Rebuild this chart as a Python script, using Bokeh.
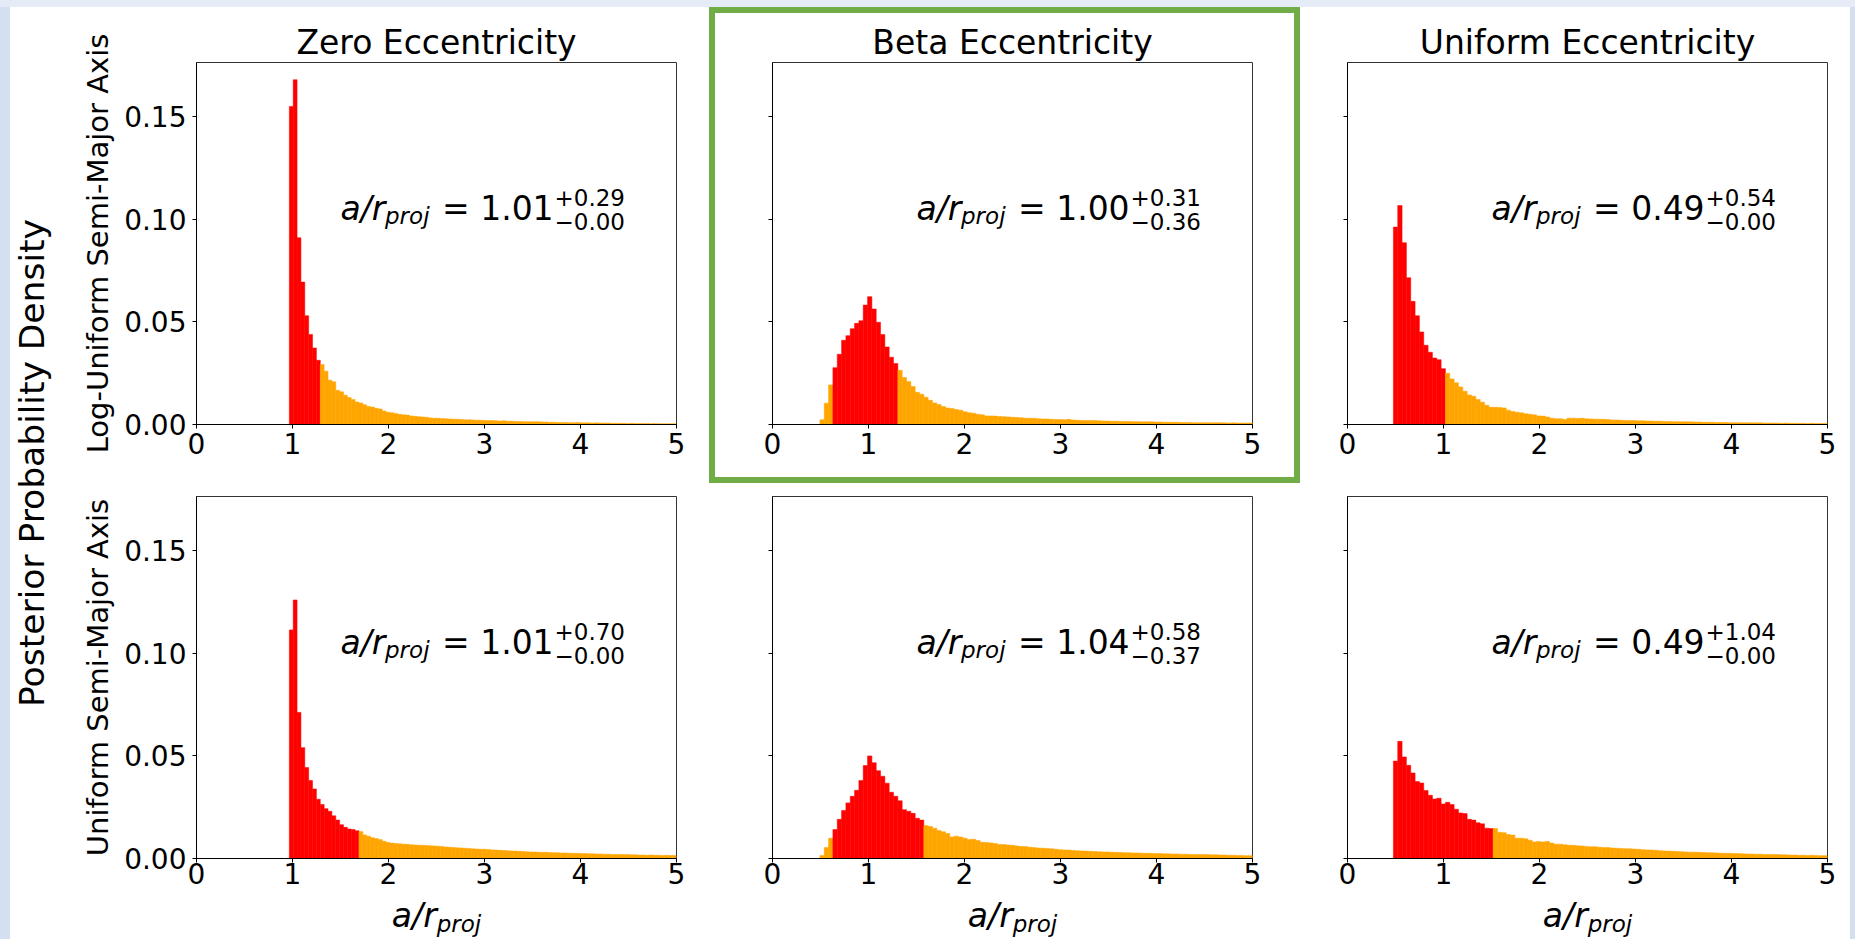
import numpy as np
from bokeh.plotting import figure
from bokeh.layouts import row, column
from bokeh.models import (Range1d, FixedTicker, Spacer, ColumnDataSource,
                          NumeralTickFormatter, CustomJSTickFormatter)
from bokeh.core.properties import value
from bokeh.embed import file_html
from bokeh.resources import INLINE

# ---------------- data ----------------
COL_TITLES = ["Zero Eccentricity", "Beta Eccentricity", "Uniform Eccentricity"]
ROW_LABELS = ["Log-Uniform Semi-Major Axis", "Uniform Semi-Major Axis"]
Y_LABEL = "Posterior Probability Density"
X_TICKS = [0, 1, 2, 3, 4, 5]
Y_TICKS = [0.0, 0.05, 0.10, 0.15]
X_MAX = 5.0
Y_MAX = 0.1764

BIN_START = [0.967, 0.494, 0.478, 0.967, 0.494, 0.478]
BIN_WIDTH = [0.0403, 0.0451, 0.0452, 0.0403, 0.0451, 0.0452]
RED_FIRST = [0, 3, 0, 0, 3, 0]
RED_LAST = [7, 17, 11, 17, 23, 22]
MEDIAN = ["1.01", "1.00", "0.49", "1.01", "1.04", "0.49"]
ERR_PLUS = ["0.29", "0.31", "0.54", "0.70", "0.58", "1.04"]
ERR_MINUS = ["0.00", "0.36", "0.00", "0.00", "0.37", "0.00"]

dens_log_zero = [
    0.155, 0.168, 0.091, 0.0694, 0.053, 0.0439, 0.0373, 0.0313,
    0.0292, 0.0260, 0.0216, 0.0208, 0.0167, 0.0159, 0.0143, 0.0131, 0.0122, 0.0110,
    0.0105, 0.0096, 0.0088, 0.0085, 0.0079, 0.0076, 0.0066, 0.0060, 0.0057, 0.0054, 0.0050, 0.0047,
    0.0046, 0.0042, 0.0040, 0.0038, 0.0037, 0.0035, 0.0032, 0.0031, 0.0030, 0.0029,
    0.0028, 0.0027, 0.0026, 0.0026, 0.0024, 0.0023, 0.0023, 0.0022, 0.0021, 0.0021,
    0.0020, 0.0019, 0.0019, 0.0018, 0.0017, 0.0018, 0.0016, 0.0016, 0.0015, 0.0015,
    0.0014, 0.0014, 0.0013, 0.0014, 0.0013, 0.0012, 0.0012, 0.0011, 0.0011, 0.0010,
    0.0010, 0.0010, 0.0009, 0.0009, 0.0010, 0.0008, 0.0008, 0.0008, 0.0007, 0.0008,
    0.0007, 0.0007, 0.0007, 0.0006, 0.0006, 0.0006, 0.0006, 0.0005, 0.0006, 0.0005,
    0.0005, 0.0005, 0.0005, 0.0004, 0.0005, 0.0004, 0.0004, 0.0004, 0.0004, 0.0004,
]
dens_log_beta = [
    0.0023, 0.0104, 0.0193, 0.0277, 0.0342, 0.0410, 0.0433, 0.0467, 0.0493, 0.0506,
    0.0582, 0.0623, 0.0563, 0.0498, 0.0438, 0.0378, 0.0328, 0.0297,
    0.0264, 0.0229, 0.0209, 0.0185, 0.0157, 0.0148, 0.0133, 0.0118, 0.0105, 0.0097,
    0.0088, 0.0081, 0.0078, 0.0073, 0.0070, 0.0062, 0.0057, 0.0055, 0.0050, 0.0047,
    0.0042, 0.0042, 0.0041, 0.0039,
    0.0038, 0.0037, 0.0035, 0.0034, 0.0033, 0.0031, 0.0030, 0.0030,
    0.0028, 0.0027, 0.0027, 0.0025, 0.0024, 0.0024, 0.0023, 0.0025, 0.0022, 0.0021,
    0.0020, 0.0020, 0.0019, 0.0019, 0.0018, 0.0017, 0.0017, 0.0016, 0.0016, 0.0015,
    0.0015, 0.0015, 0.0014, 0.0014, 0.0013, 0.0013, 0.0013, 0.0012, 0.0012, 0.0011,
    0.0011, 0.0011, 0.0011, 0.0010, 0.0010, 0.0010, 0.0009, 0.0009, 0.0009, 0.0009,
    0.0008, 0.0009, 0.0008, 0.0008, 0.0007, 0.0008, 0.0007, 0.0007, 0.0007, 0.0007,
]
dens_log_unif = [
    0.0962, 0.1067, 0.0886, 0.0715, 0.0600, 0.0530, 0.0451, 0.0386, 0.0352, 0.0324, 0.0316, 0.0272,
    0.0250, 0.0222, 0.0203, 0.0183, 0.0162, 0.0144, 0.0138, 0.0122, 0.0109, 0.0094,
    0.0084, 0.0084, 0.0083, 0.0081, 0.0070, 0.0063, 0.0060, 0.0057, 0.0052, 0.0050,
    0.0047, 0.0042, 0.0041, 0.0037, 0.0031, 0.0028, 0.0028, 0.0024, 0.0031,
    0.0031, 0.0029, 0.0030, 0.0028, 0.0027, 0.0026, 0.0026, 0.0025, 0.0024,
    0.0022, 0.0022, 0.0021, 0.0020, 0.0020, 0.0019, 0.0018, 0.0018, 0.0017, 0.0017,
    0.0016, 0.0016, 0.0015, 0.0015, 0.0014, 0.0014, 0.0013, 0.0013, 0.0013, 0.0012,
    0.0012, 0.0011, 0.0011, 0.0011, 0.0010, 0.0010, 0.0010, 0.0009, 0.0009, 0.0009,
    0.0009, 0.0008, 0.0008, 0.0008, 0.0008, 0.0007, 0.0007, 0.0007, 0.0007, 0.0006,
    0.0007, 0.0006, 0.0006, 0.0006, 0.0006, 0.0005, 0.0006, 0.0005, 0.0005, 0.0005,
]
dens_uni_zero = [
    0.1114, 0.1260, 0.0712, 0.0540, 0.0443, 0.0380, 0.0339, 0.0289, 0.0263, 0.0243,
    0.0230, 0.0208, 0.0187, 0.0165, 0.0152, 0.0144, 0.0141, 0.0135,
    0.0131, 0.0115, 0.0109, 0.0101, 0.0097, 0.0092, 0.0084, 0.0078, 0.0075, 0.0073,
    0.0072, 0.0070, 0.0069, 0.0067, 0.0066, 0.0065, 0.0064, 0.0063, 0.0062, 0.0061, 0.0060, 0.0058,
    0.0056, 0.0055, 0.0053, 0.0052, 0.0051, 0.0050, 0.0049, 0.0047, 0.0046, 0.0045,
    0.0045, 0.0044, 0.0042, 0.0041, 0.0040, 0.0039, 0.0038, 0.0037, 0.0036, 0.0035,
    0.0034, 0.0033, 0.0032, 0.0032, 0.0031, 0.0030, 0.0030, 0.0029, 0.0028, 0.0028,
    0.0027, 0.0027, 0.0026, 0.0025, 0.0025, 0.0024, 0.0024, 0.0023, 0.0023, 0.0022,
    0.0022, 0.0021, 0.0021, 0.0020, 0.0020, 0.0019, 0.0020, 0.0019, 0.0018, 0.0018,
    0.0017, 0.0017, 0.0016, 0.0017, 0.0016, 0.0016, 0.0015, 0.0016, 0.0015, 0.0015,
]
dens_uni_beta = [
    0.0015, 0.0054, 0.0099, 0.0141, 0.0191, 0.0234, 0.0271, 0.0303, 0.0332, 0.0380,
    0.0453, 0.0500, 0.0467, 0.0428, 0.0401, 0.0367, 0.0323, 0.0303, 0.0281, 0.0238,
    0.0230, 0.0220, 0.0196, 0.0187,
    0.0161, 0.0156, 0.0148, 0.0136, 0.0130, 0.0122, 0.0105, 0.0109, 0.0105, 0.0099,
    0.0092, 0.0094, 0.0088, 0.0079, 0.0078, 0.0076, 0.0073, 0.0068,
    0.0068, 0.0066, 0.0064, 0.0061, 0.0058, 0.0058, 0.0055, 0.0053,
    0.0051, 0.0050, 0.0049, 0.0047, 0.0045, 0.0043, 0.0042, 0.0041, 0.0039, 0.0038,
    0.0037, 0.0036, 0.0035, 0.0034, 0.0033, 0.0032, 0.0032, 0.0031, 0.0030, 0.0029,
    0.0028, 0.0028, 0.0027, 0.0027, 0.0026, 0.0025, 0.0025, 0.0024, 0.0024, 0.0023,
    0.0023, 0.0022, 0.0022, 0.0021, 0.0021, 0.0020, 0.0020, 0.0019, 0.0019, 0.0019,
    0.0018, 0.0018, 0.0017, 0.0017, 0.0016, 0.0016, 0.0015, 0.0015, 0.0014, 0.0014,
]
dens_uni_unif = [
    0.0475, 0.0571, 0.0495, 0.0454, 0.0417, 0.0375, 0.0368, 0.0331, 0.0308, 0.0290,
    0.0294, 0.0266, 0.0274, 0.0263, 0.0240, 0.0222, 0.0219, 0.0191, 0.0187, 0.0174,
    0.0169, 0.0148, 0.0146,
    0.0146, 0.0128, 0.0126, 0.0117, 0.0114, 0.0099, 0.0099, 0.0096, 0.0089, 0.0081,
    0.0083, 0.0081, 0.0083, 0.0075, 0.0070, 0.0070, 0.0067, 0.0065,
    0.0064, 0.0062, 0.0061, 0.0059, 0.0057, 0.0057, 0.0055, 0.0053, 0.0054,
    0.0051, 0.0050, 0.0049, 0.0048, 0.0047, 0.0046, 0.0045, 0.0043, 0.0042, 0.0041,
    0.0040, 0.0038, 0.0037, 0.0036, 0.0035, 0.0034, 0.0033, 0.0032, 0.0031, 0.0031,
    0.0030, 0.0029, 0.0028, 0.0028, 0.0027, 0.0026, 0.0025, 0.0025, 0.0024, 0.0024,
    0.0023, 0.0022, 0.0022, 0.0021, 0.0021, 0.0020, 0.0020, 0.0019, 0.0019, 0.0018,
    0.0018, 0.0017, 0.0017, 0.0016, 0.0016, 0.0015, 0.0016, 0.0015, 0.0014, 0.0014,
]
DENSITIES = [dens_log_zero, dens_log_beta, dens_log_unif,
             dens_uni_zero, dens_uni_beta, dens_uni_unif]

# ---------------- layout / style ----------------
FONT = "DejaVu Sans"
RED = "#FF0000"
ORANGE = "#FFA500"
GREEN = "#70AD47"
BLUE_EDGE = "#D5DFF2"
BLUE_TOP = "#E6ECF7"
GB = 6                      # width of the green highlight box
COL_W = [644, 591, 550]
COL_ML = [131, 63, 47]
XLAB_H = 44
ROW_H = [476, 456 - XLAB_H]
ROW_MT = [55, 13]
ROW_MB = [59, 456 - XLAB_H - 13 - 362]
XSTANDOFF = [4, 0]
FRAME_W = 480
FRAME_H = 362
PX = X_MAX / FRAME_W
PY = Y_MAX / FRAME_H
MID = 0.32                  # distance baseline -> text middle, in em
BIG, SMALL = 33, 23         # main / sub-superscript font sizes (px)

figs = []
for i, dens in enumerate(DENSITIES):
    r, c = divmod(i, 3)
    inset = GB if i == 1 else 0
    kw = dict(width=COL_W[c] - 2 * inset, height=ROW_H[r] - 2 * inset,
              x_range=Range1d(0, X_MAX), y_range=Range1d(0, Y_MAX),
              output_backend="svg", toolbar_location=None,
              min_border_left=COL_ML[c] - inset,
              min_border_right=COL_W[c] - COL_ML[c] - FRAME_W - inset,
              min_border_top=ROW_MT[r] - inset, min_border_bottom=ROW_MB[r] - inset)
    if r == 0:
        p = figure(title=COL_TITLES[c], **kw)
        p.title.align = "center"
        p.title.text_font = FONT
        p.title.text_font_size = "33px"
        p.title.text_font_style = "normal"
        p.title.text_color = "black"
        p.title.standoff = 2
    else:
        p = figure(title=None, **kw)

    n = len(dens)
    edges = BIN_START[i] + BIN_WIDTH[i] * np.arange(n + 1)
    colors = [RED if RED_FIRST[i] <= k <= RED_LAST[i] else ORANGE for k in range(n)]
    src = ColumnDataSource(dict(left=edges[:-1], right=edges[1:], top=dens, color=colors))
    p.quad(left="left", right="right", bottom=0, top="top", fill_color="color",
           line_color="color", line_width=0.5, source=src)

    p.grid.grid_line_color = None
    p.outline_line_color = "#333333"
    p.outline_line_width = 1
    p.xaxis.ticker = FixedTicker(ticks=X_TICKS)
    p.yaxis.ticker = FixedTicker(ticks=Y_TICKS)
    p.axis.minor_tick_line_color = None
    p.axis.major_tick_in = 0
    p.axis.major_tick_out = 4
    p.axis.axis_line_color = "black"
    p.axis.major_tick_line_color = "black"
    p.axis.major_label_text_font = FONT
    p.axis.major_label_text_font_size = "28px"
    p.axis.major_label_text_color = "black"
    p.xaxis.major_label_standoff = XSTANDOFF[r]
    p.yaxis.major_label_standoff = 6
    if c == 0:
        p.yaxis.formatter = NumeralTickFormatter(format="0.00")
        p.yaxis.axis_label = ROW_LABELS[r]
        p.yaxis.axis_label_text_font = FONT
        p.yaxis.axis_label_text_font_size = "29px"
        p.yaxis.axis_label_text_font_style = "normal"
        p.yaxis.axis_label_text_color = "black"
        p.yaxis.axis_label_standoff = 6
    else:
        p.yaxis.formatter = CustomJSTickFormatter(code="return ''")

    # annotation  a/r_proj = med^{+x}_{-y}   (baselines given in px, drawn by middle)
    ax, ay = 1.5, 0.1
    common = dict(text_font=value(FONT), text_baseline="middle", text_align="left",
                  text_color="black")
    big_mid = MID * BIG * PY
    small_mid = MID * SMALL * PY
    p.text(x=[ax], y=[ay + big_mid], text=["a/r"], text_font_size=f"{BIG}px",
           text_font_style="italic", **common)
    p.text(x=[ax + 44.5 * PX], y=[ay - 4 * PY + small_mid], text=["proj"],
           text_font_size=f"{SMALL}px", text_font_style="italic", **common)
    p.text(x=[ax + 101.5 * PX], y=[ay + big_mid], text=["= " + MEDIAN[i]],
           text_font_size=f"{BIG}px", **common)
    p.text(x=[ax + 214 * PX], y=[ay + 14.3 * PY + small_mid], text=["+" + ERR_PLUS[i]],
           text_font_size=f"{SMALL}px", **common)
    p.text(x=[ax + 214 * PX], y=[ay - 9.4 * PY + small_mid], text=["\u2212" + ERR_MINUS[i]],
           text_font_size=f"{SMALL}px", **common)
    figs.append(p)

# x-axis labels (a/r_proj) under the bottom row, in strips aligned with the frames
xlabs = []
W_AR = 1.3608 * BIG
W_PROJ = 1.9355 * SMALL
for c in range(3):
    q = figure(width=COL_W[c], height=XLAB_H, x_range=Range1d(0, X_MAX),
               y_range=Range1d(0, XLAB_H), output_backend="svg", toolbar_location=None,
               min_border_left=COL_ML[c], min_border_right=COL_W[c] - COL_ML[c] - FRAME_W,
               min_border_top=0, min_border_bottom=0,
               x_axis_location=None, y_axis_location=None, title=None)
    q.outline_line_color = None
    q.grid.grid_line_color = None
    x0 = X_MAX / 2 - (W_AR + W_PROJ) / 2 * PX
    base = 13                        # baseline of "a/r", px above the page bottom
    q.text(x=[x0], y=[base + MID * BIG], text=["a/r"], text_font=value(FONT),
           text_font_style="italic", text_font_size=f"{BIG}px", text_baseline="middle",
           text_align="left", text_color="black")
    q.text(x=[x0 + W_AR * PX], y=[base - 5 + MID * SMALL], text=["proj"],
           text_font=value(FONT), text_font_style="italic", text_font_size=f"{SMALL}px",
           text_baseline="middle", text_align="left", text_color="black")
    xlabs.append(q)

# big shared y label
LF_W = 55
lf = figure(width=LF_W, height=932, x_range=Range1d(0, LF_W), y_range=Range1d(0, 932),
            output_backend="svg", toolbar_location=None, min_border=0,
            x_axis_location=None, y_axis_location=None, title=None)
lf.outline_line_color = None
lf.grid.grid_line_color = None
lf.text(x=[21], y=[476.5], text=[Y_LABEL], angle=np.pi / 2, text_align="center",
        text_baseline="middle", text_font=value(FONT), text_font_size="34.5px",
        text_color="black")


def strip(w, h, color):
    return Spacer(width=w, height=h, styles={"background-color": color})


# green highlight box around the Beta / Log-Uniform panel
w1, h1 = COL_W[1], ROW_H[0]
boxed = column(strip(w1, GB, GREEN),
               row(strip(GB, h1 - 2 * GB, GREEN), figs[1], strip(GB, h1 - 2 * GB, GREEN)),
               strip(w1, GB, GREEN))

grid = column(row(figs[0], boxed, figs[2]),
              row(*figs[3:]),
              row(*xlabs))
root = column(strip(1855, 7, BLUE_TOP),
              row(strip(10, 932, BLUE_EDGE), lf, grid, strip(5, 932, BLUE_EDGE)))

open("out.html", "w").write(file_html(root, INLINE))
